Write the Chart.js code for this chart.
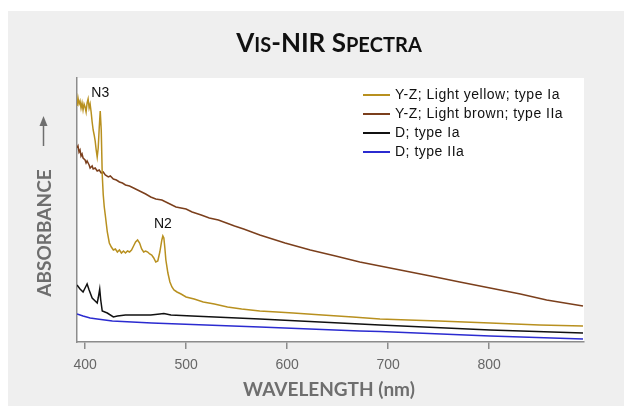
<!DOCTYPE html>
<html>
<head>
<meta charset="utf-8">
<script src="https://cdn.jsdelivr.net/npm/chart.js@4.4.0/dist/chart.umd.min.js"></script>
<style>
  body { margin: 0; background: #fff; }
  #wrap { width: 624px; height: 406px; }
</style>
</head>
<body>
<div id="wrap"><canvas id="myChart"></canvas></div>
<script>
// Y-Z; light yellow; type Ia
const wlYellow = [392, 393, 394, 395, 396, 397, 398, 399, 400, 401, 402, 403, 404, 405, 406, 407, 408, 409, 410, 411, 412, 413, 414, 415, 416, 417, 418, 419, 420, 422, 424, 426, 428, 430, 432, 434, 436, 438, 440, 442, 444, 446, 448, 450, 452, 454, 456, 458, 460, 462, 464, 466, 468, 470, 472, 474, 476, 477, 478, 479, 480, 482, 484, 486, 488, 491, 495, 500, 508, 517, 528, 541, 555, 573, 590, 606, 635, 665, 692, 720, 750, 801, 850, 893];
const absYellow = [2.36, 2.44, 2.38, 2.41, 2.34, 2.39, 2.32, 2.38, 2.35, 2.30, 2.39, 2.43, 2.34, 2.38, 2.30, 2.20, 2.12, 2.07, 2.01, 1.92, 1.85, 1.94, 2.14, 2.31, 2.12, 1.67, 1.47, 1.35, 1.27, 1.10, 0.99, 0.95, 0.92, 0.93, 0.90, 0.92, 0.89, 0.91, 0.89, 0.91, 0.90, 0.92, 0.96, 1.00, 1.02, 0.99, 0.93, 0.90, 0.91, 0.90, 0.88, 0.87, 0.84, 0.80, 0.81, 0.90, 1.02, 1.06, 1.04, 0.94, 0.82, 0.69, 0.60, 0.55, 0.52, 0.50, 0.48, 0.45, 0.43, 0.40, 0.38, 0.35, 0.33, 0.31, 0.30, 0.29, 0.27, 0.25, 0.23, 0.22, 0.21, 0.19, 0.17, 0.16];

// Y-Z; light brown; type IIa
const wlBrown = [392, 393, 394, 395, 396, 397, 398, 400, 401, 402, 404, 405, 407, 408, 410, 412, 414, 416, 418, 420, 423, 425, 428, 431, 434, 437, 440, 444, 448, 452, 456, 460, 465, 470, 476, 482, 490, 500, 506, 515, 523, 532, 540, 548, 557, 565, 573, 598, 623, 648, 672, 692, 712, 742, 771, 801, 831, 857, 893];
const absBrown = [1.94, 1.96, 1.90, 1.92, 1.86, 1.88, 1.84, 1.82, 1.79, 1.81, 1.77, 1.74, 1.76, 1.73, 1.74, 1.71, 1.72, 1.69, 1.70, 1.67, 1.65, 1.66, 1.63, 1.62, 1.60, 1.59, 1.57, 1.56, 1.54, 1.52, 1.50, 1.48, 1.45, 1.43, 1.42, 1.39, 1.35, 1.33, 1.30, 1.27, 1.24, 1.22, 1.19, 1.16, 1.13, 1.10, 1.07, 0.99, 0.92, 0.86, 0.80, 0.76, 0.72, 0.66, 0.60, 0.54, 0.48, 0.42, 0.36];

// D; type Ia
const wlBlackD = [392, 395, 398, 400, 402, 404, 407, 410, 412, 413, 414.5, 415.5, 417, 422, 428, 432, 440, 452, 465, 474, 478, 485, 506, 573, 672, 692, 801, 893];
const absBlackD = [0.57, 0.53, 0.50, 0.54, 0.58, 0.52, 0.44, 0.41, 0.39, 0.44, 0.53, 0.42, 0.31, 0.29, 0.25, 0.26, 0.27, 0.27, 0.27, 0.28, 0.285, 0.27, 0.26, 0.23, 0.18, 0.17, 0.12, 0.09];

// D; type IIa
const wlBlueD = [392, 398, 405, 412, 427, 466, 573, 672, 692, 801, 893];
const absBlueD = [0.28, 0.26, 0.24, 0.23, 0.21, 0.19, 0.15, 0.11, 0.105, 0.06, 0.03];

const seriesNames = ['Y-Z; Light yellow; type Ia', 'Y-Z; Light brown; type IIa', 'D; type Ia', 'D; type IIa'];
const seriesColors = ['#b8901f', '#7b3f1c', '#111111', '#2b2bd0'];
const xTicks = [400, 500, 600, 700, 800];

// peak labels: text, wavelength, height
const peakText = ['N3', 'N2'];
const peakWl = [415, 477];
const peakAbs = [2.49, 1.18];

function pts(xs, ys) {
  return xs.map(function (x, i) { return { x: x, y: ys[i] }; });
}

const grey = '#6e6e6e';
const headFont = 'Lato, "DejaVu Sans", sans-serif';
const bodyFont = '"Liberation Sans", Arial, sans-serif';

function drawSmallCaps(ctx, text, cx, baseY, big, small) {
  var parts = [];
  var total = 0;
  for (var i = 0; i < text.length; i++) {
    var ch = text[i];
    var size = ch !== ch.toUpperCase() ? small : big;
    ctx.font = 'bold ' + size + 'px ' + headFont;
    var w = ctx.measureText(ch.toUpperCase()).width;
    parts.push({ s: ch.toUpperCase(), size: size, w: w });
    total += w;
  }
  var x = cx - total / 2;
  ctx.textAlign = 'left';
  ctx.textBaseline = 'alphabetic';
  parts.forEach(function (p) {
    ctx.font = 'bold ' + p.size + 'px ' + headFont;
    ctx.fillText(p.s, x, baseY);
    x += p.w;
  });
}

const panel = {
  id: 'panel',
  beforeDraw: function (chart) {
    var ctx = chart.ctx, a = chart.chartArea;
    ctx.save();
    ctx.fillStyle = '#ffffff';
    ctx.fillRect(0, 0, chart.width, chart.height);
    ctx.fillStyle = '#efefef';
    ctx.fillRect(8, 11, chart.width - 8, chart.height - 11);
    ctx.fillStyle = '#ffffff';
    ctx.fillRect(a.left, a.top, a.right - a.left, a.bottom - a.top);
    ctx.restore();
  },
  afterDraw: function (chart) {
    var ctx = chart.ctx;
    var xs = chart.scales.x, ys = chart.scales.y;
    ctx.save();

    // title
    ctx.fillStyle = '#111';
    drawSmallCaps(ctx, 'Vis-NIR Spectra', 329, 52, 26, 20);

    // axis titles
    ctx.fillStyle = grey;
    ctx.font = 'bold 19px ' + headFont;
    ctx.textAlign = 'center';
    ctx.textBaseline = 'alphabetic';
    ctx.fillText('WAVELENGTH (nm)', 329, 396);

    ctx.save();
    ctx.translate(44, 233);
    ctx.rotate(-Math.PI / 2);
    ctx.textBaseline = 'middle';
    ctx.fillText('ABSORBANCE', 0, 1);
    ctx.restore();

    // arrow next to the absorbance title
    ctx.strokeStyle = grey;
    ctx.lineWidth = 1.5;
    ctx.beginPath();
    ctx.moveTo(43.5, 146);
    ctx.lineTo(43.5, 122);
    ctx.stroke();
    ctx.beginPath();
    ctx.moveTo(43.5, 116);
    ctx.lineTo(39.5, 126);
    ctx.lineTo(47.5, 126);
    ctx.closePath();
    ctx.fill();

    // peak labels
    ctx.fillStyle = '#111';
    ctx.font = '14px ' + bodyFont;
    ctx.textAlign = 'center';
    ctx.textBaseline = 'middle';
    for (var i = 0; i < peakText.length; i++) {
      ctx.fillText(peakText[i], xs.getPixelForValue(peakWl[i]), ys.getPixelForValue(peakAbs[i]));
    }

    // legend
    ctx.textAlign = 'left';
    ctx.letterSpacing = '0.5px';
    chart.data.datasets.forEach(function (ds, k) {
      var y = 95 + k * 19;
      ctx.strokeStyle = ds.borderColor;
      ctx.lineWidth = 2;
      ctx.beginPath();
      ctx.moveTo(363, y);
      ctx.lineTo(390, y);
      ctx.stroke();
      ctx.fillStyle = '#111';
      ctx.fillText(ds.label, 395, y);
    });

    ctx.restore();
  }
};

const ctx = document.getElementById('myChart');

new Chart(ctx, {
  type: 'line',
  data: {
    datasets: [
      { label: seriesNames[0], data: pts(wlYellow, absYellow), borderColor: seriesColors[0] },
      { label: seriesNames[1], data: pts(wlBrown, absBrown), borderColor: seriesColors[1] },
      { label: seriesNames[2], data: pts(wlBlackD, absBlackD), borderColor: seriesColors[2] },
      { label: seriesNames[3], data: pts(wlBlueD, absBlueD), borderColor: seriesColors[3] }
    ]
  },
  options: {
    responsive: true,
    maintainAspectRatio: false,
    animation: false,
    events: [],
    layout: { padding: { left: 0, top: 78, right: 40, bottom: 0 } },
    elements: {
      line: { borderWidth: 1.5, tension: 0, fill: false },
      point: { radius: 0 }
    },
    plugins: {
      legend: { display: false },
      title: { display: false },
      tooltip: { enabled: false }
    },
    scales: {
      x: {
        type: 'linear',
        min: 392,
        max: 894,
        afterBuildTicks: function (scale) {
          scale.ticks = xTicks.map(function (v) { return { value: v }; });
        },
        afterFit: function (scale) { scale.height = 64; },
        grid: { drawOnChartArea: false, drawTicks: true, tickLength: 7, color: '#8c8c8c', lineWidth: 1.5 },
        border: { display: true, color: '#8c8c8c', width: 1.5 },
        ticks: { color: '#666', font: { family: bodyFont, size: 14 }, padding: 8, maxRotation: 0 }
      },
      y: {
        min: 0,
        max: 2.64,
        afterFit: function (scale) { scale.width = 77; },
        grid: { display: false },
        border: { display: true, color: '#8c8c8c', width: 1.5 },
        ticks: { display: false }
      }
    }
  },
  plugins: [panel]
});
</script>
</body>
</html>
